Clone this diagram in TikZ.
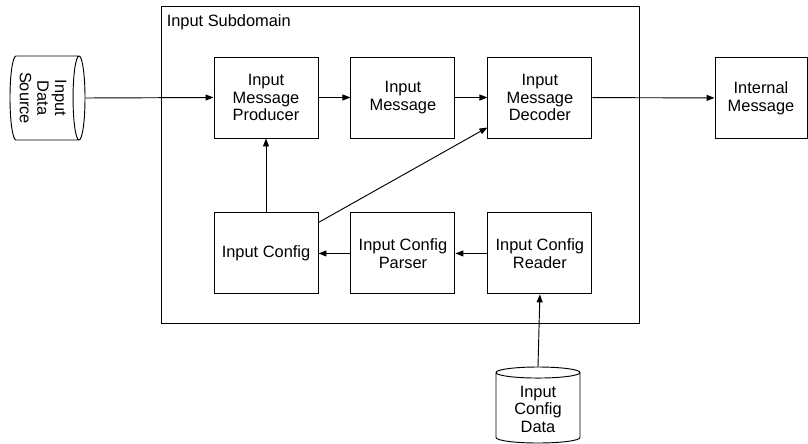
\documentclass[tikz,border=0pt]{standalone}
\usepackage{fontspec}
\setmainfont{Liberation Sans}
\usepackage{tikz}
\usetikzlibrary{arrows.meta,positioning,shapes.geometric}

\begin{document}
\begin{tikzpicture}[x=0.03cm, y=-0.03cm,
    font=\fontsize{14}{15}\selectfont,
    box/.style={draw, line width=0.8pt, minimum width=3.12cm, minimum height=2.43cm, align=center},
    store/.style={draw, line width=0.8pt, cylinder, shape border rotate=90, aspect=0.2, align=center, anchor=shape center},
    flow/.style={-{Triangle[length=2.4mm,width=1.8mm]}, line width=0.8pt}]
    \useasboundingbox (0,0) rectangle (808,443);
    % Subdomain frame
    \node[draw, line width=0.8pt, minimum width=14.34cm, minimum height=9.51cm] (subdomain) at (400,164.5) {};
    \node[anchor=north west, inner sep=0pt] (sublabel) at ([xshift=0.18cm,yshift=-0.27cm]subdomain.north west) {Input Subdomain};
    % Message row
    \node[box] (producer) at (266,97.5) {Input\\Message\\Producer};
    \node[box, right=0.96cm of producer] (message) {Input\\Message};
    \node[box, right=0.96cm of message] (decoder) {Input\\Message\\Decoder};
    \node[box, minimum width=2.76cm] (internal) at (761,98) {Internal\\Message};
    % Config row
    \node[box, below=2.22cm of producer] (config) {Input Config};
    \node[box, right=0.96cm of config] (parser) {Input Config\\Parser};
    \node[box, right=0.96cm of parser] (reader) {Input Config\\Reader};
    % Data stores
    \node[store, rotate=-90, minimum width=2.52cm, minimum height=2.25cm] (source) at (47.5,98) {Input\\Data\\Source};
    \node[store, minimum width=2.52cm, minimum height=2.28cm] (cfgdata) at (538,405) {Input\\Config\\Data};
    % Arrows
    \draw[flow] (source.north) -- (producer.west);
    \draw[flow] (producer) -- (message);
    \draw[flow] (message) -- (decoder);
    \draw[flow] (decoder) -- (internal);
    \draw[flow] (config) -- (producer);
    \draw[flow] ([yshift=-0.3cm]config.north east) -- ([yshift=0.33cm]decoder.south west);
    \draw[flow] (reader) -- (parser);
    \draw[flow] (parser) -- (config);
    \draw[flow] (cfgdata.north) -- (reader.south);
\end{tikzpicture}
\end{document}
